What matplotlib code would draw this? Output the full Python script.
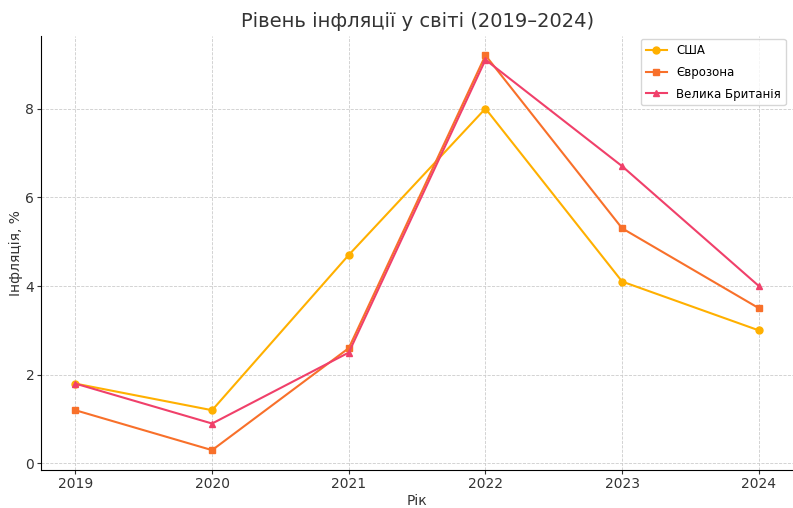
import matplotlib.pyplot as plt

years = [2019, 2020, 2021, 2022, 2023, 2024]
usa = [1.8, 1.2, 4.7, 8.0, 4.1, 3.0]
eurozone = [1.2, 0.3, 2.6, 9.2, 5.3, 3.5]
uk = [1.8, 0.9, 2.5, 9.1, 6.7, 4.0]

fig, ax = plt.subplots(figsize=(7.93, 5.08), dpi=100)
fig.subplots_adjust(left=0.052, right=1.0, top=0.93, bottom=0.075)

ax.plot(years, usa, marker="o", markersize=5, color="#FFB000", linewidth=1.5, label="США")
ax.plot(years, eurozone, marker="s", markersize=5, color="#F8702A", linewidth=1.5, label="Єврозона")
ax.plot(years, uk, marker="^", markersize=5, color="#F0406A", linewidth=1.5, label="Велика Британія")

ax.set_title("Рівень інфляції у світі (2019–2024)", fontsize=14, color="#333333")
ax.set_xlabel("Рік", fontsize=10, color="#333333", labelpad=2)
ax.set_ylabel("Інфляція, %", fontsize=10, color="#333333", labelpad=2)
ax.set_xticks(years)
ax.grid(True, linestyle="--", linewidth=0.6, color="#cccccc")
ax.spines["top"].set_visible(False)
ax.spines["right"].set_visible(False)
ax.tick_params(colors="#333333", labelsize=10, length=3, pad=2)
ax.legend(loc="upper right", fontsize=8.5, frameon=True, edgecolor="#cccccc",
          handlelength=1.8, labelspacing=0.75, borderaxespad=0.3,
          bbox_to_anchor=(0.995, 1.0))

fig.savefig("out.png")
